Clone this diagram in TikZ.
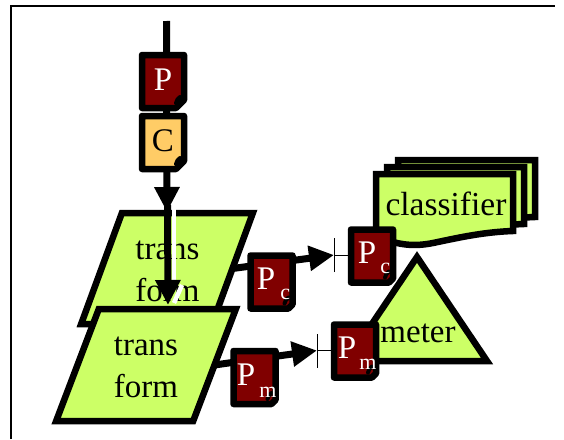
\documentclass[tikz,border=0pt]{standalone}
\usepackage{fontspec}
\setmainfont{Liberation Serif}
\usetikzlibrary{arrows.meta,shapes.geometric,shapes.misc}
\definecolor{limefill}{HTML}{CCFF66}
\definecolor{darkred}{HTML}{800000}
\definecolor{paleorange}{HTML}{FFCC66}

\begin{document}
\begin{tikzpicture}[x=1pt,y=-1pt,>={Triangle[length=25pt,width=24pt]},line width=6.5pt,
    docnode/.style={chamfered rectangle,chamfered rectangle corners=south east,chamfered rectangle xsep=4pt,chamfered rectangle ysep=4pt,
        draw,line join=round,inner sep=0pt,outer sep=0pt,minimum width=42pt,minimum height=53pt,font=\fontsize{33}{33}\selectfont,
        text height=22pt,text depth=5pt,
        path picture={\draw[line width=4pt,line cap=round] ([shift={(-8pt,5pt)}]path picture bounding box.south east) to[bend left=20] ([shift={(-4pt,11pt)}]path picture bounding box.south east);}},
    maroon node/.style={docnode,fill=darkred,text=white},
    trans node/.style={trapezium,trapezium left angle=65,trapezium right angle=115,trapezium stretches,draw,fill=limefill,inner sep=0pt,outer sep=0pt},
    trans text/.style={align=center,inner sep=0pt,font=\fontsize{33}{42}\selectfont},
    sub/.style={font=\fontsize{22}{22}\selectfont,text=white,inner sep=0pt}]

            \useasboundingbox (0,0) rectangle (564,439);
            \coordinate (frame bl) at (11,439);
            \coordinate (frame tl) at (11,6);
            \coordinate (frame tr) at (555,6);
            \draw[line width=2pt] (frame bl) -- (frame tl) -- (frame tr);

            % upper transform and the line through it
            \node[trans node,minimum width=172pt,minimum height=111pt] (trans1) at (167,268.5) {\phantom{\rule{64pt}{62pt}}};
            \node[trans text] (trans1 label) at (167.5,271.5) {trans\\form};
            \coordinate (in) at (166.5,21);
            \coordinate (tip1) at (167,212);
            \coordinate (tip2) at (168,305);
            \draw[white,line width=4.5pt] (174,204) -- (174,282);
            \draw[white,line width=4.5pt] (182,285) -- (174,303);
            \draw[->,line width=7pt] (in) -- (tip1);
            \draw[->,line width=7pt] (167.5,205) -- (tip2);

            \node[maroon node] (P) at (163,81.5) {P};
            \node[docnode,fill=paleorange] (C) at (163,142.5) {C};
            \node[trans node,minimum width=180pt,minimum height=112pt] (trans2) at (146,365) {\phantom{\rule{64pt}{62pt}}};
            \node[trans text] (trans2 label) at (146,367.5) {trans\\form};

            % back sheets of the classifier
            \foreach \dx/\dy/\name in {22/-14/back,11/-7/middle,0/0/front}
                \filldraw[fill=limefill,xshift=\dx,yshift=-\dy,miter limit=10] (376,174) -- (513,174) -- (513,231) .. controls (483,232) and (457,238) .. (433,243) .. controls (413,247) and (397,245) .. (376,236) -- cycle;
            \node[font=\fontsize{33.5}{34}\selectfont,inner sep=0pt] (classifier) at (446,204) {classifier};

            \node[isosceles triangle,isosceles triangle stretches,shape border rotate=90,anchor=apex,draw,fill=limefill,inner sep=0pt,outer sep=0pt,minimum height=104pt,minimum width=140pt] (triangle) at (417,257) {};
            \node[font=\fontsize{33}{33}\selectfont,inner sep=0pt] (meter) at (418,333) {meter};

            % feature branches
            \coordinate (bar1) at (334,255);
            \coordinate (bar2) at (317,350.5);
            \draw[->,line width=7pt] (trans1.east) -- (bar1);
            \draw[->,line width=7pt] (trans2.east) -- (bar2);
            \draw[{Bar[width=34pt]}-,line width=1pt] (bar1) -- ++(18,0) coordinate (stub1);
            \draw[{Bar[width=34pt]}-,line width=1pt] (bar2) -- ++(18,0) coordinate (stub2);
            \node[maroon node] (Pc1) at (271.5,282) {};
            \node[maroon node] (Pc2) at (372,256) {};
            \node[maroon node] (Pm1) at (254.5,377.5) {};
            \node[maroon node] (Pm2) at (355,351) {};

            \foreach \doc/\letter/\px/\sx/\sy in {Pc1/c/-5.5/5.5/-17,Pc2/c/-5/5/-17,Pm1/m/-8.5/1.5/-19.5,Pm2/m/-8/1/-18} {
                \node[font=\fontsize{33}{33}\selectfont,text=white,inner sep=0pt] at ([shift={(\px pt,3pt)}]\doc.center) {P};
                \node[sub,anchor=base west] at ([shift={(\sx pt,\sy pt)}]\doc.center) {\letter};
            }
\end{tikzpicture}
\end{document}
